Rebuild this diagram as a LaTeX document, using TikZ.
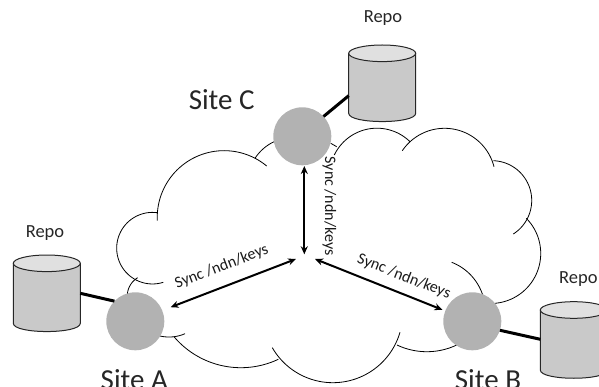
\documentclass[tikz,border=0pt]{standalone}
\usepackage{fontspec}
\setmainfont{Carlito}
\usetikzlibrary{arrows.meta}
\tikzset{
  cloudline/.style={line width=0.8pt,black},
  drum/.style={draw=black!85,line width=1pt},
  site/.style={circle,fill=black!30,minimum size=58pt,inner sep=0pt,outer sep=0pt},
  link/.style={line width=3pt,black},
  syncarrow/.style={line width=2pt,black,{Stealth[length=8pt,width=7pt]}-{Stealth[length=8pt,width=7pt]}},
  repolabel/.style={font=\fontsize{18.5}{20}\selectfont,text=black!85,anchor=base,inner sep=0pt},
  sitelabel/.style={font=\fontsize{29}{32}\selectfont,text=black!85,anchor=base,inner sep=0pt},
  synclabel/.style={font=\fontsize{16}{20}\selectfont,text=black!90,inner sep=0pt}
}
% circular arc through three points, in picture units
\newcommand\cloudarc[6]{%
  \pgfmathsetmacro\bxv{(#3-#1)/50}\pgfmathsetmacro\byv{(#4-#2)/50}%
  \pgfmathsetmacro\cxv{(#5-#1)/50}\pgfmathsetmacro\cyv{(#6-#2)/50}%
  \pgfmathsetmacro\dv{2*(\bxv*\cyv-\byv*\cxv)}%
  \pgfmathsetmacro\bbv{\bxv*\bxv+\byv*\byv}\pgfmathsetmacro\ccv{\cxv*\cxv+\cyv*\cyv}%
  \pgfmathsetmacro\uxv{(\cyv*\bbv-\byv*\ccv)/\dv}\pgfmathsetmacro\uyv{(\bxv*\ccv-\cxv*\bbv)/\dv}%
  \pgfmathsetmacro\radv{50*sqrt(\uxv*\uxv+\uyv*\uyv)}%
  \pgfmathsetmacro\cenx{#1+50*\uxv}\pgfmathsetmacro\ceny{#2+50*\uyv}%
  \pgfmathsetmacro\angA{atan2(-\uyv,-\uxv)}%
  \pgfmathsetmacro\angB{atan2(\byv-\uyv,\bxv-\uxv)}%
  \pgfmathsetmacro\angC{atan2(\cyv-\uyv,\cxv-\uxv)}%
  \pgfmathsetmacro\relB{mod(\angB-\angA+720,360)}%
  \pgfmathsetmacro\relC{mod(\angC-\angA+720,360)}%
  \pgfmathsetmacro\sweep{\relB<\relC?\relC:\relC-360}%
  \pgfmathsetmacro\angE{\angA+\sweep}%
  \draw[cloudline,line join=round] plot[domain=\angA:\angE,samples=48,variable=\t]
    ({\cenx+\radv*cos(\t)},{\ceny+\radv*sin(\t)});%
}
% cylinder: left x, top-ellipse centre y, bottom-ellipse centre y
\newcommand\repodrum[3]{%
  \draw[drum,fill=black!21] (#1,#2) -- (#1,#3) .. controls (#1,#3+11) and (#1+67,#3+11) .. (#1+67,#3) -- (#1+67,#2) -- cycle;%
  \draw[drum,fill=black!12] (#1+33.5,#2) ellipse [x radius=33.5,y radius=8.3];%
}
\begin{document}
\begin{tikzpicture}[x=1pt,y=-1pt]
\clip (0,0) rectangle (599,387);
% cloud
\cloudarc{266.7}{166}{226.7}{150.7}{157.3}{220.7}
\cloudarc{157.3}{212.7}{116.7}{246.7}{163.3}{282.3}
\cloudarc{137.7}{277.7}{131}{284}{127.3}{295}
\cloudarc{160}{336}{174}{336.7}{185}{333.7}
\cloudarc{174}{336.7}{240}{367.7}{278.3}{359.3}
\cloudarc{272.3}{347.7}{333.3}{382.7}{400}{332.3}
\cloudarc{397}{345}{426}{351.7}{456.7}{345}
\cloudarc{451.7}{262.3}{469}{273.3}{483}{296}
\cloudarc{495}{303.3}{540.7}{251.7}{526.3}{218.3}
\cloudarc{513.3}{234}{531.7}{201.7}{493.3}{160.7}
\cloudarc{494}{166.7}{445}{128.3}{402.3}{150.7}
\cloudarc{410}{141.7}{380}{128.3}{334.3}{155}
\cloudarc{255}{158.3}{263}{149}{274}{141.7}
\draw[cloudline] (330.7,143.3) -- (336.7,146.7);
% repositories
\repodrum{13.3}{263.3}{323.3}
\repodrum{348.7}{53.3}{113.3}
\repodrum{540.3}{310}{370}
% sites
\node[site] (siteA) at (135.3,321.3) {};
\node[site] (siteB) at (472.3,321.3) {};
\node[site] (siteC) at (302.3,136.3) {};
% attachment points and hub
\coordinate (portA) at (80.3,293.3);
\coordinate (portB) at (540.3,339.3);
\coordinate (portC) at (348.7,95.7);
\coordinate (hubA) at (296,259);
\coordinate (hubB) at (315,259);
\coordinate (hubC) at (304.3,254.3);
\coordinate (topC) at (304.3,166);
\draw[link] (portA) -- (siteA.136);
\draw[link] (siteB.-18) -- (portB);
\draw[link] (portC) -- (siteC.43);
\draw[syncarrow] (topC) -- (hubC);
\draw[syncarrow,shorten <=9pt] (siteA.22.4) -- (hubA);
\draw[syncarrow,shorten >=3pt] (hubB) -- (siteB.159);
% labels
\node[repolabel] (lblRepoA) at (45,237.7) {Repo};
\node[repolabel] (lblRepoC) at (383,22.7) {Repo};
\node[repolabel] (lblRepoB) at (578.3,283.3) {Repo};
\node[sitelabel] (lblSiteA) at (134.3,389) {Site A};
\node[sitelabel] (lblSiteB) at (488,389) {Site B};
\node[sitelabel] (lblSiteC) at (221.7,110) {Site C};
\node[synclabel,rotate=21] (syncA) at (221.7,266.7) {Sync /ndn/keys};
\node[synclabel,rotate=-21.4] (syncB) at (404,276.7) {Sync /ndn/keys};
\node[synclabel,rotate=-90] (syncC) at (329.3,206) {Sync /ndn/keys};
\end{tikzpicture}
\end{document}
